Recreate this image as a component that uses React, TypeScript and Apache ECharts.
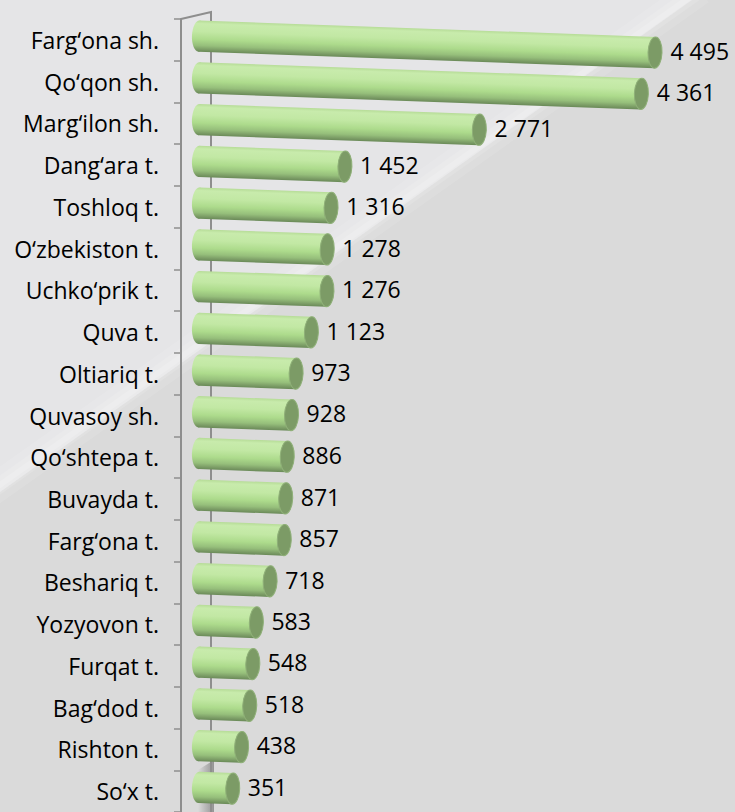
import React, { useEffect, useRef } from "react";
import * as echarts from "echarts";

const categories = [
  "Farg‘ona sh.", "Qo‘qon sh.", "Marg‘ilon sh.", "Dang‘ara t.", "Toshloq t.",
  "O‘zbekiston t.", "Uchko‘prik t.", "Quva t.", "Oltiariq t.", "Quvasoy sh.",
  "Qo‘shtepa t.", "Buvayda t.", "Farg‘ona t.", "Beshariq t.", "Yozyovon t.",
  "Furqat t.", "Bag‘dod t.", "Rishton t.", "So‘x t.",
];
const values = [4495, 4361, 2771, 1452, 1316, 1278, 1276, 1123, 973, 928, 886, 871, 857, 718, 583, 548, 518, 438, 351];

const TILT = 0.036;
const FONT = "Open Sans";
const fmt = (v: number) => String(v).replace(/\B(?=(\d{3})+(?!\d))/g, " ");

export default function App() {
  const ref = useRef<HTMLDivElement>(null);
  useEffect(() => {
    if (!ref.current) return;
    const chart = echarts.init(ref.current, undefined, { renderer: "svg" });
    const bodyGrad = () =>
      new echarts.graphic.LinearGradient(0, 0, 0, 1, [
        { offset: 0, color: "#b6dc97" },
        { offset: 0.1, color: "#c8ebac" },
        { offset: 0.35, color: "#c2e8a4" },
        { offset: 0.6, color: "#addb8c" },
        { offset: 0.8, color: "#96bf7b" },
        { offset: 0.93, color: "#7a9b65" },
        { offset: 1, color: "#6a8a58" },
      ]);
    const streak = (w: number, a: number) => ({
      type: "line", z: -99, silent: true,
      shape: { x1: 700, y1: -10, x2: -10, y2: 492 },
      style: { stroke: `rgba(255,255,255,${a})`, lineWidth: w },
    });
    const option: any = {
      animation: false,
      backgroundColor: "#dadada",
      grid: { left: 181, right: 21, top: 19, height: 797, containLabel: false },
      xAxis: { type: "value", min: -225, max: 5000, show: false },
      yAxis: {
        type: "category", data: categories, inverse: true,
        axisLine: { show: true, onZero: false, lineStyle: { color: "#8e8e8e", width: 2 } },
        axisTick: { show: true, length: 7, lineStyle: { color: "#8e8e8e", width: 1.5 } },
        axisLabel: { margin: 22, color: "#000", fontFamily: FONT, fontSize: 23 },
        splitLine: { show: false },
      },
      graphic: [
        { type: "polygon", z: -100, silent: true, shape: { points: [[0, 0], [692, 0], [0, 492]] }, style: { fill: "#e5e5e7" } },
        streak(30, 0.1),
        streak(16, 0.12),
        streak(6, 0.15),
        {
          type: "polygon", z: 1, silent: true,
          shape: { points: [[198, 812], [198, 770], [214, 760], [214, 812]] },
          style: {
            fill: new echarts.graphic.LinearGradient(1, 0, 0, 0, [
              { offset: 0, color: "rgba(90,90,90,0.55)" },
              { offset: 1, color: "rgba(90,90,90,0)" },
            ]),
          },
        },
        { type: "polyline", z: 2, silent: true, shape: { points: [[181, 19], [211, 12], [211, 812]] }, style: { stroke: "#8e8e8e", lineWidth: 2, fill: "none" } },
      ],
      series: [
        {
          type: "custom",
          z: 5,
          clip: false,
          encode: { x: 0, y: 1 },
          data: values.map((v, i) => [v, i]),
          renderItem: (params: any, api: any) => {
            const v = api.value(0);
            const idx = api.value(1);
            const end = api.coord([v, idx]);
            const zero = api.coord([0, idx]);
            const band = api.size([0, 1])[1];
            const h = band * 0.75;
            const x0 = zero[0] - 12;
            const x1 = end[0];
            const cy = end[1] - 4;
            const len = x1 - x0;
            const rx = 7;
            const drop = len * Math.sin(TILT);
            return {
              type: "group",
              children: [
                {
                  type: "group", x: x0, y: cy, rotation: -TILT,
                  children: [
                    { type: "rect", shape: { x: rx, y: -h / 2, width: Math.max(0, len - 2 * rx), height: h }, style: { fill: bodyGrad() } },
                    { type: "ellipse", shape: { cx: rx, cy: 0, rx, ry: h / 2 }, style: { fill: bodyGrad() } },
                    { type: "ellipse", shape: { cx: len - rx, cy: 0, rx, ry: h / 2 }, style: { fill: "#7c9b66", stroke: "#8fb078", lineWidth: 1 } },
                  ],
                },
                {
                  type: "text", x: x1 + 8, y: cy + drop - 2,
                  style: { text: fmt(v), fill: "#000", font: `23px "${FONT}"`, textAlign: "left", textVerticalAlign: "middle", verticalAlign: "middle" },
                },
              ],
            };
          },
        },
      ],
    };
    chart.setOption(option);
    return () => chart.dispose();
  }, []);
  return <div ref={ref} style={{ position: "fixed", left: 0, top: 0, width: 735, height: 812 }} />;
}
